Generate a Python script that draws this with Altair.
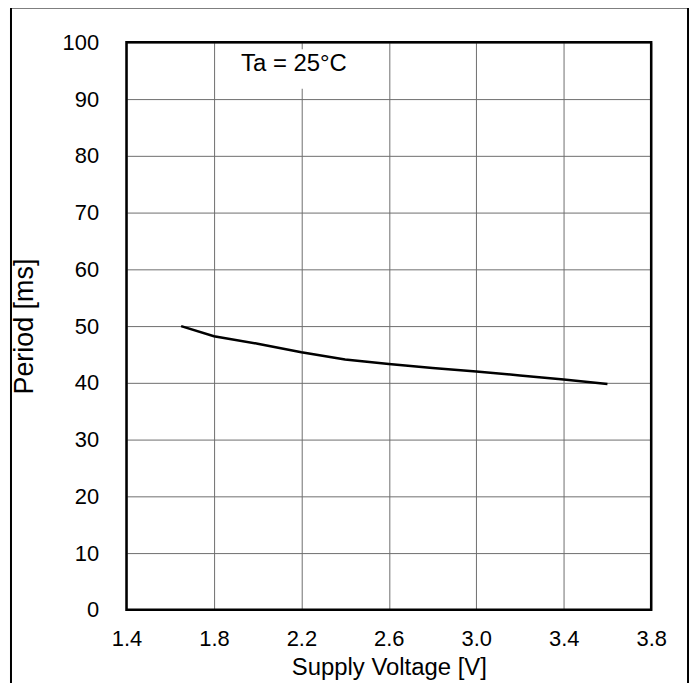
import altair as alt
import pandas as pd

voltage = [1.65, 1.8, 2.0, 2.2, 2.4, 2.6, 2.8, 3.0, 3.2, 3.4, 3.6]
period = [50.0, 48.2, 46.9, 45.4, 44.1, 43.3, 42.6, 42.0, 41.3, 40.6, 39.8]
x_ticks = [1.4, 1.8, 2.2, 2.6, 3.0, 3.4, 3.8]
y_ticks = [0, 10, 20, 30, 40, 50, 60, 70, 80, 90, 100]
note = "Ta = 25°C"

FONT = "Liberation Sans"
W, H = 527, 570

df = pd.DataFrame({"v": voltage, "p": period})

xs = alt.Scale(domain=[1.4, 3.8], nice=False, zero=False)
ys = alt.Scale(domain=[0, 100], nice=False)

line = alt.Chart(df).mark_line(color="black", strokeWidth=2.5).encode(
    x=alt.X("v:Q", scale=xs, title="Supply Voltage [V]",
            axis=alt.Axis(values=x_ticks, format=".1f", grid=True, gridColor="#6e6e6e",
                          gridWidth=1, gridOpacity=1, ticks=False, domain=False,
                          labelFont=FONT, labelFontSize=22, labelColor="black",
                          labelPadding=19, labelFlush=False,
                          titleFont=FONT, titleFontSize=24, titleFontWeight="normal",
                          titleColor="black", titleBaseline="alphabetic", titleY=65)),
    y=alt.Y("p:Q", scale=ys, title="Period [ms]",
            axis=alt.Axis(values=y_ticks, grid=True, gridColor="#6e6e6e",
                          gridWidth=1, gridOpacity=1, ticks=False, domain=False,
                          labelFont=FONT, labelFontSize=22, labelColor="black",
                          labelPadding=28, labelFlush=False,
                          titleFont=FONT, titleFontSize=27, titleFontWeight="normal",
                          titleColor="black", titleAngle=-90, titleBaseline="middle",
                          titleX=-102, titleY=285)),
)

box_df = pd.DataFrame({"x1": [1.87], "x2": [2.47], "y1": [91.8], "y2": [98.8]})
box = alt.Chart(box_df).mark_rect(fill="white", strokeWidth=0).encode(
    x=alt.X("x1:Q", scale=xs), x2="x2", y=alt.Y("y1:Q", scale=ys), y2="y2"
)

txt_df = pd.DataFrame({"x": [2.166], "y": [94.9], "t": [note]})
txt = alt.Chart(txt_df).mark_text(font=FONT, fontSize=24, color="black",
                                   baseline="alphabetic", align="center").encode(
    x=alt.X("x:Q", scale=xs), y=alt.Y("y:Q", scale=ys), text="t:N"
)

one = pd.DataFrame({"k": [0]})
plot_border = alt.Chart(one).mark_rect(fillOpacity=0, stroke="black", strokeWidth=2.5,
                                       clip=False).encode(
    x=alt.value(0), x2=alt.value(W), y=alt.value(0), y2=alt.value(H)
)
frame = alt.Chart(one).mark_rect(fillOpacity=0, stroke="black", strokeWidth=2,
                                 clip=False).encode(
    x=alt.value(-116), x2=alt.value(564), y=alt.value(-35), y2=alt.value(700)
)

chart = alt.layer(box, line, txt, plot_border, frame).properties(
    width=W, height=H,
    autosize=alt.AutoSizeParams(type="none"),
    padding={"left": 119, "top": 33, "right": 40, "bottom": 72},
).configure_view(strokeWidth=0).configure(background="white")

chart.save("out.html", embed_options={"renderer": "svg", "actions": False})
